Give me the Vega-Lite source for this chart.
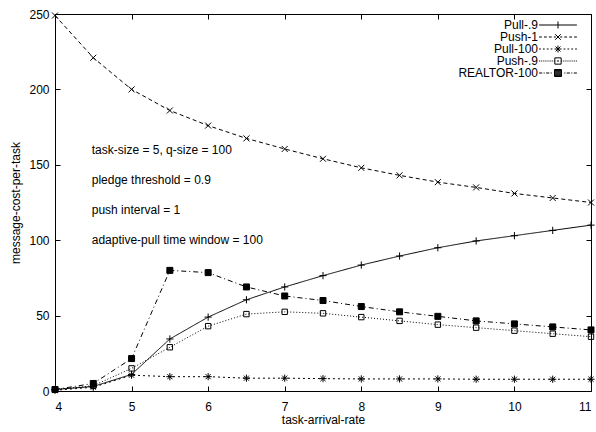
{
  "$schema": "https://vega.github.io/schema/vega-lite/v6.json",
  "width": 536,
  "height": 377,
  "autosize": {"type": "none"},
  "padding": {"left": 55, "top": 14, "right": 5, "bottom": 41},
  "background": "white",
  "config": {
    "font": "Liberation Sans",
    "view": {"stroke": "black", "strokeWidth": 1},
    "axis": {
      "labelFont": "Liberation Sans", "labelFontSize": 12, "labelColor": "black",
      "titleFont": "Liberation Sans", "titleFontSize": 12, "titleFontWeight": "normal", "titleColor": "black",
      "tickColor": "black", "tickSize": -5, "domain": false, "grid": false
    },
    "legend": {
      "labelFont": "Liberation Sans", "labelFontSize": 12, "labelColor": "black"
    }
  },
  "datasets": {
    "costs": [
      {"rate": 4, "series": "Pull-.9", "cost": 1},
      {"rate": 4.5, "series": "Pull-.9", "cost": 3},
      {"rate": 5, "series": "Pull-.9", "cost": 11},
      {"rate": 5.5, "series": "Pull-.9", "cost": 34.5},
      {"rate": 6, "series": "Pull-.9", "cost": 49},
      {"rate": 6.5, "series": "Pull-.9", "cost": 60.5},
      {"rate": 7, "series": "Pull-.9", "cost": 69},
      {"rate": 7.5, "series": "Pull-.9", "cost": 76.5},
      {"rate": 8, "series": "Pull-.9", "cost": 83.5},
      {"rate": 8.5, "series": "Pull-.9", "cost": 89.5},
      {"rate": 9, "series": "Pull-.9", "cost": 95},
      {"rate": 9.5, "series": "Pull-.9", "cost": 99.5},
      {"rate": 10, "series": "Pull-.9", "cost": 103},
      {"rate": 10.5, "series": "Pull-.9", "cost": 106.5},
      {"rate": 11, "series": "Pull-.9", "cost": 110},
      {"rate": 4, "series": "Push-1", "cost": 249},
      {"rate": 4.5, "series": "Push-1", "cost": 221},
      {"rate": 5, "series": "Push-1", "cost": 200},
      {"rate": 5.5, "series": "Push-1", "cost": 186},
      {"rate": 6, "series": "Push-1", "cost": 176},
      {"rate": 6.5, "series": "Push-1", "cost": 167.5},
      {"rate": 7, "series": "Push-1", "cost": 160.5},
      {"rate": 7.5, "series": "Push-1", "cost": 154},
      {"rate": 8, "series": "Push-1", "cost": 148},
      {"rate": 8.5, "series": "Push-1", "cost": 143},
      {"rate": 9, "series": "Push-1", "cost": 138.5},
      {"rate": 9.5, "series": "Push-1", "cost": 135},
      {"rate": 10, "series": "Push-1", "cost": 131},
      {"rate": 10.5, "series": "Push-1", "cost": 128},
      {"rate": 11, "series": "Push-1", "cost": 125},
      {"rate": 4, "series": "Pull-100", "cost": 0.5},
      {"rate": 4.5, "series": "Pull-100", "cost": 2.5},
      {"rate": 5, "series": "Pull-100", "cost": 10.5},
      {"rate": 5.5, "series": "Pull-100", "cost": 9.5},
      {"rate": 6, "series": "Pull-100", "cost": 9.5},
      {"rate": 6.5, "series": "Pull-100", "cost": 8.5},
      {"rate": 7, "series": "Pull-100", "cost": 8.5},
      {"rate": 7.5, "series": "Pull-100", "cost": 8.2},
      {"rate": 8, "series": "Pull-100", "cost": 8},
      {"rate": 8.5, "series": "Pull-100", "cost": 8},
      {"rate": 9, "series": "Pull-100", "cost": 8},
      {"rate": 9.5, "series": "Pull-100", "cost": 7.8},
      {"rate": 10, "series": "Pull-100", "cost": 7.8},
      {"rate": 10.5, "series": "Pull-100", "cost": 7.8},
      {"rate": 11, "series": "Pull-100", "cost": 7.8},
      {"rate": 4, "series": "Push-.9", "cost": 1},
      {"rate": 4.5, "series": "Push-.9", "cost": 3.5},
      {"rate": 5, "series": "Push-.9", "cost": 15},
      {"rate": 5.5, "series": "Push-.9", "cost": 29},
      {"rate": 6, "series": "Push-.9", "cost": 43},
      {"rate": 6.5, "series": "Push-.9", "cost": 51},
      {"rate": 7, "series": "Push-.9", "cost": 52.5},
      {"rate": 7.5, "series": "Push-.9", "cost": 51.5},
      {"rate": 8, "series": "Push-.9", "cost": 49},
      {"rate": 8.5, "series": "Push-.9", "cost": 46.5},
      {"rate": 9, "series": "Push-.9", "cost": 44},
      {"rate": 9.5, "series": "Push-.9", "cost": 42},
      {"rate": 10, "series": "Push-.9", "cost": 40},
      {"rate": 10.5, "series": "Push-.9", "cost": 38},
      {"rate": 11, "series": "Push-.9", "cost": 36},
      {"rate": 4, "series": "REALTOR-100", "cost": 1},
      {"rate": 4.5, "series": "REALTOR-100", "cost": 5},
      {"rate": 5, "series": "REALTOR-100", "cost": 21.5},
      {"rate": 5.5, "series": "REALTOR-100", "cost": 80},
      {"rate": 6, "series": "REALTOR-100", "cost": 78.5},
      {"rate": 6.5, "series": "REALTOR-100", "cost": 69},
      {"rate": 7, "series": "REALTOR-100", "cost": 63},
      {"rate": 7.5, "series": "REALTOR-100", "cost": 60},
      {"rate": 8, "series": "REALTOR-100", "cost": 56},
      {"rate": 8.5, "series": "REALTOR-100", "cost": 52.5},
      {"rate": 9, "series": "REALTOR-100", "cost": 49.5},
      {"rate": 9.5, "series": "REALTOR-100", "cost": 46.5},
      {"rate": 10, "series": "REALTOR-100", "cost": 44.5},
      {"rate": 10.5, "series": "REALTOR-100", "cost": 42.5},
      {"rate": 11, "series": "REALTOR-100", "cost": 40.5}
    ],
    "notes": [
      {"note": "task-size = 5, q-size = 100", "nx": 4.48, "ny": 160},
      {"note": "pledge threshold = 0.9", "nx": 4.48, "ny": 140},
      {"note": "push interval = 1", "nx": 4.48, "ny": 120},
      {"note": "adaptive-pull time window = 100", "nx": 4.48, "ny": 100}
    ]
  },
  "resolve": {
    "scale": {"shape": "independent"},
    "axis": {"x": "independent", "y": "independent"}
  },
  "layer": [
    {
      "data": {"name": "costs"},
      "mark": {"type": "line", "color": "black", "strokeWidth": 1},
      "encoding": {
        "x": {
          "field": "rate", "type": "quantitative",
          "scale": {"domain": [4, 11], "nice": false, "zero": false},
          "axis": {"orient": "bottom", "values": [4, 5, 6, 7, 8, 9, 10, 11], "format": "d", "labelPadding": 15, "title": "task-arrival-rate", "titlePadding": 2}
        },
        "y": {
          "field": "cost", "type": "quantitative",
          "scale": {"domain": [0, 250], "nice": false},
          "axis": {"orient": "left", "values": [0, 50, 100, 150, 200, 250], "labelPadding": 11, "title": "message-cost-per-task", "titlePadding": 6}
        },
        "detail": {"field": "series"},
        "strokeDash": {
          "field": "series", "type": "nominal",
          "scale": {
            "domain": ["Pull-.9", "Push-1", "Pull-100", "Push-.9", "REALTOR-100"],
            "range": [[1, 0], [4, 3], [2, 3], [1, 2], [5, 3, 1, 3]]
          },
          "legend": null
        }
      }
    },
    {
      "data": {"name": "costs"},
      "mark": {"type": "point", "filled": true, "stroke": "black", "strokeWidth": 1, "opacity": 1, "size": 36},
      "encoding": {
        "x": {"field": "rate", "type": "quantitative", "axis": null},
        "y": {"field": "cost", "type": "quantitative", "axis": null},
        "shape": {
          "field": "series", "type": "nominal",
          "scale": {
            "domain": ["Pull-.9", "Push-1", "Pull-100", "Push-.9", "REALTOR-100"],
            "range": [
              "M-1.2,0H1.2M0,-1.2V1.2",
              "M-1,-1L1,1M-1,1L1,-1",
              "M-1.2,0H1.2M0,-1.2V1.2M-0.85,-0.85L0.85,0.85M-0.85,0.85L0.85,-0.85",
              "M-0.9,-0.9H0.9V0.9H-0.9Z",
              "M-1,-1H1V1H-1Z"
            ]
          },
          "legend": null
        },
        "fill": {
          "field": "series", "type": "nominal",
          "scale": {
            "domain": ["Pull-.9", "Push-1", "Pull-100", "Push-.9", "REALTOR-100"],
            "range": ["transparent", "transparent", "transparent", "transparent", "black"]
          },
          "legend": null
        }
      }
    },
    {
      "data": {"name": "costs"},
      "mark": {"type": "point", "filled": false, "opacity": 0, "size": 49},
      "encoding": {
        "x": {"field": "rate", "type": "quantitative", "axis": null},
        "y": {"field": "cost", "type": "quantitative", "axis": null},
        "shape": {
          "field": "series", "type": "nominal",
          "scale": {
            "domain": ["Pull-.9", "Push-1", "Pull-100", "Push-.9", "REALTOR-100"],
            "range": [
              "M-5.4,0H5.4M0,-1V1",
              "M-5.4,0H-4.6M-4,0H-3.2M-2.6,0H-1.8M-1.2,0H-0.6M0.6,0H1.2M1.8,0H2.6M3.2,0H4M4.6,0H5.4M-0.8,-0.8L0.8,0.8M-0.8,0.8L0.8,-0.8",
              "M-5.4,0H-4.9M-4.3,0H-3.8M-3.2,0H-2.7M-2.1,0H-1.6M1.6,0H2.1M2.7,0H3.2M3.8,0H4.3M4.9,0H5.4M-1,0H1M0,-1V1M-0.7,-0.7L0.7,0.7M-0.7,0.7L0.7,-0.7",
              "M-5.4,0H-5.1M-4.8,0H-4.5M-4.2,0H-3.9M-3.6,0H-3.3M-3,0H-2.7M-2.4,0H-2.1M-1.8,0H-1.5M-1.2,0H-0.9M0.9,0H1.2M1.5,0H1.8M2.1,0H2.4M2.7,0H3M3.3,0H3.6M3.9,0H4.2M4.5,0H4.8M5.1,0H5.4M-0.9,-0.9H0.9V0.9H-0.9ZM-0.3,0H0.3",
              "M-5.4,0H-4.5M-4.1,0H-3.8M-3.4,0H-2.5M-2.1,0H-1.8M1.8,0H2.1M2.5,0H3.4M3.8,0H4.1M4.5,0H5.4M-1,-1H1V1H-1ZM-1,-0.75H1M-1,-0.5H1M-1,-0.25H1M-1,0H1M-1,0.25H1M-1,0.5H1M-1,0.75H1"
            ]
          },
          "legend": {
            "title": null,
            "orient": "none",
            "legendX": 497,
            "legendY": 5,
            "padding": 0,
            "rowPadding": 0,
            "symbolSize": 49,
            "symbolStrokeColor": "black",
            "symbolFillColor": "transparent",
            "symbolStrokeWidth": 1,
            "symbolOpacity": 1,
            "labelAlign": "right",
            "labelOffset": -26
          }
        }
      }
    },
    {
      "data": {"name": "notes"},
      "mark": {"type": "text", "align": "left", "baseline": "middle", "font": "Liberation Sans", "fontSize": 12, "color": "black"},
      "encoding": {
        "x": {
          "field": "nx", "type": "quantitative",
          "axis": {"orient": "top", "values": [4, 5, 6, 7, 8, 9, 10, 11], "labels": false, "title": null}
        },
        "y": {
          "field": "ny", "type": "quantitative",
          "axis": {"orient": "right", "values": [0, 50, 100, 150, 200, 250], "labels": false, "title": null}
        },
        "text": {"field": "note"}
      }
    }
  ]
}
